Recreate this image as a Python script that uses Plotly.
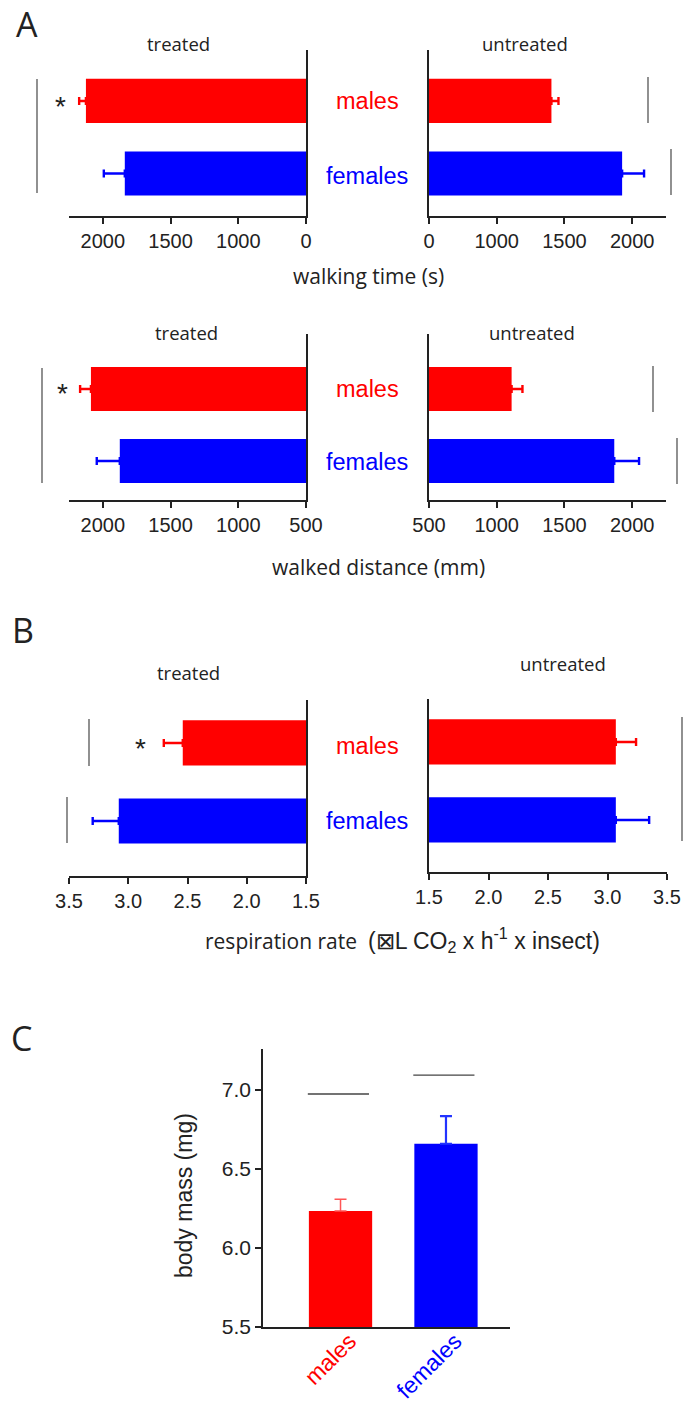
import plotly.graph_objects as go

W, H = 683, 1406

categories = ["males", "females"]
bar_colors = ["#FF0000", "#0000FF"]

walk_time_treated = [2125, 1838]
walk_time_treated_err = [50, 155]
walk_time_untreated = [1404, 1926]
walk_time_untreated_err = [52, 162]

dist_treated = [2088, 1875]
dist_treated_err = [80, 170]
dist_untreated = [1110, 1868]
dist_untreated_err = [80, 183]

resp_treated = [2.54, 3.08]
resp_treated_err = [0.16, 0.22]
resp_untreated = [3.07, 3.07]
resp_untreated_err = [0.17, 0.28]

mass = [6.234, 6.66]
mass_err = [0.075, 0.175]

time_ticks = [500, 1000, 1500, 2000]
time_ticktext = ["0", "1000", "1500", "2000"]
dist_ticks = [500, 1000, 1500, 2000]
dist_ticktext = ["500", "1000", "1500", "2000"]
resp_ticks = [1.5, 2.0, 2.5, 3.0, 3.5]
resp_ticktext = ["1.5", "2.0", "2.5", "3.0", "3.5"]
mass_ticks = [5.5, 6.0, 6.5, 7.0]
mass_ticktext = ["5.5", "6.0", "6.5", "7.0"]

AX = "#222222"
TICKFONT = dict(family="Liberation Sans, Arial", size=20, color="#222222")
LBLFONT = "Open Sans"


def px_x(a, b):
    return [a / W, b / W]


def px_y(top, bottom):
    return [1 - bottom / H, 1 - top / H]


fig = go.Figure()

# name, xdom, ydom, values, errs, xrange, ticks, ticktext, yrange, barwidth, side
panels = [
    ("1", (69, 306), (50, 216), walk_time_treated, walk_time_treated_err, [2250, 500], time_ticks, time_ticktext, [1.586, -0.703], 0.61, "right"),
    ("2", (429, 666), (50, 216), walk_time_untreated, walk_time_untreated_err, [500, 2250], time_ticks, time_ticktext, [1.586, -0.703], 0.61, "left"),
    ("3", (69, 306), (334, 500), dist_treated, dist_treated_err, [2250, 500], dist_ticks, dist_ticktext, [1.542, -0.764], 0.61, "right"),
    ("4", (429, 666), (334, 500), dist_untreated, dist_untreated_err, [500, 2250], dist_ticks, dist_ticktext, [1.542, -0.764], 0.61, "left"),
    ("5", (69, 306), (700, 876), resp_treated, resp_treated_err, [3.5, 1.5], resp_ticks, resp_ticktext, [1.705, -0.551], 0.58, "right"),
    ("6", (429, 667), (699, 872), resp_untreated, resp_untreated_err, [1.5, 3.5], resp_ticks, resp_ticktext, [1.667, -0.551], 0.58, "left"),
]

layout_axes = {}
for name, xd, yd, vals, errs, xr, tv, tt, yr, bw, side in panels:
    xa = "x" if name == "1" else "x" + name
    ya = "y" if name == "1" else "y" + name
    for i in range(2):
        fig.add_trace(go.Bar(
            x=[vals[i]], y=[categories[i]], orientation="h",
            marker=dict(color=bar_colors[i], line=dict(width=0)),
            width=bw,
            error_x=dict(type="data", symmetric=False, array=[errs[i]], arrayminus=[0],
                         color=bar_colors[i], thickness=2.4, width=4),
            xaxis=xa, yaxis=ya, showlegend=False,
        ))
    key = "" if name == "1" else name
    layout_axes["xaxis" + key] = dict(
        domain=px_x(*xd), anchor=ya, range=xr, tickvals=tv, ticktext=tt, automargin=False,
        showgrid=False, zeroline=False, showline=True, linecolor=AX, linewidth=1.5,
        ticks="outside", ticklen=6, tickwidth=1.5, tickcolor=AX, tickfont=TICKFONT,
    )
    layout_axes["yaxis" + key] = dict(
        domain=px_y(*yd), anchor=xa, range=yr, type="category", side=side, automargin=False,
        showgrid=False, zeroline=False, showline=True, linecolor=AX, linewidth=1.5,
        showticklabels=False, ticks="",
    )

# Panel C
for i in range(2):
    fig.add_trace(go.Bar(
        x=[categories[i]], y=[mass[i]],
        marker=dict(color=bar_colors[i], line=dict(width=0)),
        width=0.6,
        error_y=dict(type="data", symmetric=False, array=[mass_err[i]], arrayminus=[0],
                     color=["#FF5555", "#2233FF"][i], thickness=[1.5, 2.2][i], width=6),
        xaxis="x7", yaxis="y7", showlegend=False,
    ))
layout_axes["xaxis7"] = dict(
    domain=px_x(263, 510), anchor="y7", range=[-0.735, 1.607], type="category",
    tickvals=categories, automargin=False,
    ticktext=["<span style='color:#FF0000'>males</span>", "<span style='color:#0000FF'>females</span>"],
    tickangle=-45, tickfont=dict(family="Liberation Sans, Arial", size=23),
    ticklabelshift=9, ticklabelstandoff=-10,
    showgrid=False, zeroline=False, showline=True, linecolor=AX, linewidth=1.5, ticks="",
)
layout_axes["yaxis7"] = dict(
    domain=px_y(1049, 1327), anchor="x7", range=[5.5, 7.26], automargin=False,
    tickvals=mass_ticks, ticktext=mass_ticktext,
    showgrid=False, zeroline=False, showline=True, linecolor=AX, linewidth=1.5,
    ticks="outside", ticklen=6, tickwidth=1.5, tickcolor=AX,
    tickfont=dict(family="Liberation Sans, Arial", size=21, color="#222222"),
)

annotations = []


def ann(text, x, y, size=18, color="#222222", family=LBLFONT, angle=0):
    annotations.append(dict(text=text, x=x / W, y=1 - y / H, xref="paper", yref="paper",
                            xanchor="center", yanchor="middle", showarrow=False, textangle=angle,
                            font=dict(family=family, size=size, color=color)))


ann("A", 27, 24, size=34)
ann("B", 23, 630, size=34)
ann("C", 21, 1038, size=34)

for (tx, ty), (ux, uy), (my, fy), (sx, sy) in [
    ((178, 43), (525, 43), (101, 176), (60, 106)),
    ((186, 332), (532, 333), (389, 462), (62, 393)),
    ((188, 672), (563, 663), (746, 821), (140, 748)),
]:
    ann("treated", tx, ty, size=18.5)
    ann("untreated", ux, uy, size=18.5)
    ann("males", 367, my, size=23.5, color="#FF0000", family="Liberation Sans, Arial")
    ann("females", 367, fy, size=23.5, color="#0000FF", family="Liberation Sans, Arial")
    ann("*", sx, sy, size=28, family="Liberation Sans, Arial")

ann("walking time (s)", 368, 276, size=21)
ann("walked distance (mm)", 378, 567, size=21)
ann("respiration rate  <span style='font-family:Liberation Sans;font-size:23px'>(⊠L CO<sub>2</sub> x h<sup>-1</sup> x insect)</span>", 402, 940, size=21)
ann("body mass (mg)", 184, 1196, size=23, family="Liberation Sans, Arial", angle=-90)

shapes = []


def vline(x, y0, y1):
    shapes.append(dict(type="line", xref="paper", yref="paper", x0=x / W, x1=x / W,
                       y0=1 - y0 / H, y1=1 - y1 / H, line=dict(color="#555555", width=1.3)))


vline(37, 79, 193)
vline(648, 77, 123)
vline(671, 149, 195)
vline(42, 368, 483)
vline(653, 366, 412)
vline(677, 438, 484)
vline(89, 719, 766)
vline(67, 797, 843)
vline(682, 717, 841)

# panel C comparison lines (data coords)
for xc, yv in [(0, 6.975), (1, 7.095)]:
    shapes.append(dict(type="line", xref="x7", yref="y7", x0=xc - 0.31, x1=xc + 0.27,
                       y0=yv, y1=yv, line=dict(color="#444444", width=1.3)))

fig.update_layout(
    width=W, height=H, margin=dict(l=0, r=0, t=0, b=0, autoexpand=False),
    paper_bgcolor="white", plot_bgcolor="white",
    barmode="overlay", showlegend=False,
    annotations=annotations, shapes=shapes,
    **layout_axes,
)

fig.write_html("out.html")
